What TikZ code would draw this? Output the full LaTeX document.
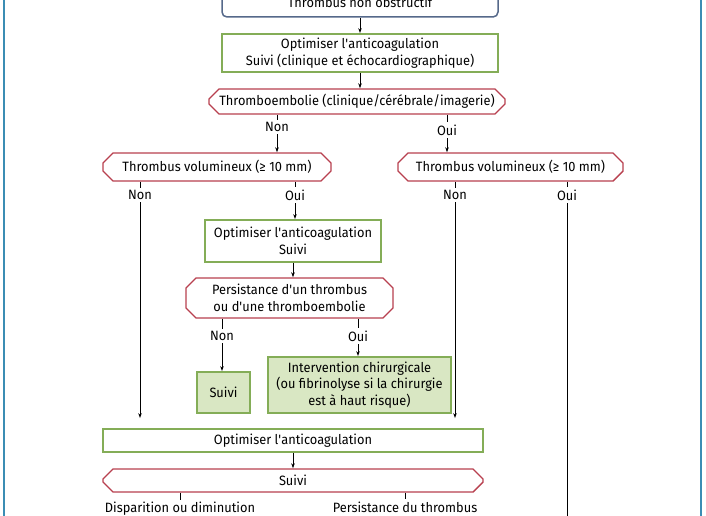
\documentclass[tikz,border=0pt]{standalone}
\usepackage{fontspec}
\setmainfont{Fira Sans}[FakeStretch=0.95]
\usetikzlibrary{shapes.misc,arrows.meta}
\newcommand{\apos}{\textquotesingle}
\definecolor{frameblue}{HTML}{3B8DB4}
\definecolor{topblue}{HTML}{56698A}
\definecolor{boxgreen}{HTML}{84AD57}
\definecolor{lightgreen}{HTML}{D9E7C3}
\definecolor{boxred}{HTML}{B8404F}
\tikzset{
  base/.style={font=\fontsize{13.5}{16.5}\selectfont, align=center, inner sep=0pt, text=black},
  topbox/.style={base, draw=topblue, line width=1.5pt, rounded corners=5pt, fill=white},
  greenbox/.style={base, draw=boxgreen, line width=1.8pt, fill=white},
  greenfill/.style={base, draw=boxgreen, line width=1.8pt, fill=lightgreen},
  redbox/.style={base, draw=boxred, line width=1.4pt, fill=white, chamfered rectangle, chamfered rectangle xsep=5pt, chamfered rectangle ysep=5pt},
  lab/.style={base, inner sep=2.5pt},
  conn/.style={line width=0.8pt, black},
  arr/.style={conn, -{Stealth[length=5pt,width=3.5pt]}},
}
\begin{document}
\begin{tikzpicture}[x=1pt,y=-1pt]
\useasboundingbox (0,0) rectangle (706,516);
% frame
\draw[frameblue, line width=1.3pt] (4,-30) rectangle (701,550);

\node[topbox, minimum width=276pt, minimum height=30pt] (top) at (360,2) {Thrombus non obstructif};
\node[greenbox, minimum width=276pt, minimum height=38pt] (g1) at (360,53) {Optimiser l\apos anticoagulation\\Suivi (clinique et échocardiographique)};
\node[redbox, minimum width=296pt, minimum height=25pt] (r1) at (357,101.5) {Thromboembolie (clinique/cérébrale/imagerie)};
\node[lab] (nA) at (277,127) {Non};
\node[lab] (oA) at (447,130) {Oui};
\node[redbox, minimum width=228pt, minimum height=28pt] (r2) at (217,167) {Thrombus volumineux (≥ 10 mm)};
\node[redbox, minimum width=225pt, minimum height=28pt] (r3) at (510.5,167) {Thrombus volumineux (≥ 10 mm)};
\node[lab] (nB) at (140,195) {Non};
\node[lab] (oB) at (295,195) {Oui};
\node[lab] (nC) at (455,195) {Non};
\node[lab] (oC) at (567,195) {Oui};
\node[greenbox, minimum width=176pt, minimum height=42pt] (g2) at (293,241) {Optimiser l\apos anticoagulation\\Suivi};
\node[redbox, minimum width=207pt, minimum height=40pt] (r4) at (289.5,298) {Persistance d\apos un thrombus\\ou d\apos une thromboembolie};
\node[lab] (nD) at (222,336) {Non};
\node[lab] (oD) at (358,336) {Oui};
\node[greenfill, minimum width=53pt, minimum height=41pt] (s1) at (223.5,392.5) {Suivi};
\node[greenfill, minimum width=183pt, minimum height=56pt] (iv) at (359.5,385) {Intervention chirurgicale\\(ou fibrinolyse si la chirurgie\\est à haut risque)};
\node[greenbox, minimum width=380pt, minimum height=23pt] (g3) at (293,440.5) {Optimiser l\apos anticoagulation};
\node[redbox, minimum width=380pt, minimum height=23pt] (r5) at (293,480.5) {Suivi};
\node[lab] (dis) at (180,509) {Disparition ou diminution};
\node[lab] (per) at (405,507) {Persistance du thrombus};
\coordinate (endC) at (567,530);

% connectors
\draw[arr] (top.south -| g1.north) -- (g1.north);
\draw[arr] (g1.south) -- (g1.south |- r1.north);
\draw[conn] (nA.north |- r1.south) -- (nA.north);
\draw[arr] (nA.south) -- (nA.south |- r2.north);
\draw[conn] (oA.north |- r1.south) -- (oA.north);
\draw[arr] (oA.south) -- (oA.south |- r3.north);

\draw[conn] (nB.north |- r2.south) -- (nB.north);
\draw[arr, shorten >=10pt] (nB.south) -- (nB.south |- g3.north);
\draw[conn] (oB.north |- r2.south) -- (oB.north);
\draw[arr] (oB.south) -- (oB.south |- g2.north);
\draw[conn] (nC.north |- r3.south) -- (nC.north);
\draw[arr, shorten >=10pt] (nC.south) -- (nC.south |- g3.north);
\draw[conn] (oC.north |- r3.south) -- (oC.north);
\draw[conn] (oC.south) -- (endC);

\draw[arr] (g2.south) -- (g2.south |- r4.north);
\draw[conn] (nD.north |- r4.south) -- (nD.north);
\draw[arr] (nD.south) -- (nD.south |- s1.north);
\draw[conn] (oD.north |- r4.south) -- (oD.north);
\draw[arr] (oD.south) -- (oD.south |- iv.north);

\draw[arr] (g3.south) -- (g3.south |- r5.north);
\draw[conn] (dis.north |- r5.south) -- (dis.north);
\draw[conn] (per.north |- r5.south) -- (per.north);
\end{tikzpicture}
\end{document}
